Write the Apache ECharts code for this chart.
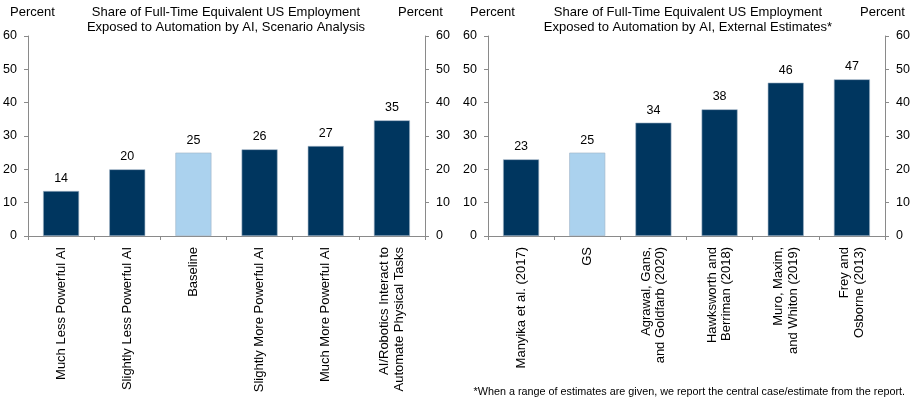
<!DOCTYPE html>
<html lang="en">

<head>
  <meta charset="UTF-8">
  <title>AI Automation Exposure</title>
  <script src="https://cdn.jsdelivr.net/npm/echarts@6.0.0/dist/echarts.min.js"></script>
</head>

<body style="margin:0;background:#fff;">
  <div id="main" style="width: 913px;height:407px;"></div>

  <script type="text/javascript">
    // Scenario analysis (left panel)
    const scenarioCategories = [
      'Much Less Powerful AI',
      'Slightly Less Powerful AI',
      'Baseline',
      'Slightly More Powerful AI',
      'Much More Powerful AI',
      'AI/Robotics Interact to\nAutomate Physical Tasks'
    ];
    const scenarioValues = [13.5, 20, 25, 26, 27, 34.7];

    // External estimates (right panel)
    const externalCategories = [
      'Manyika et al. (2017)',
      'GS',
      'Agrawal, Gans,\nand Goldfarb (2020)',
      'Hawksworth and\nBerriman (2018)',
      'Muro, Maxim,\nand Whiton (2019)',
      'Frey and\nOsborne (2013)'
    ];
    const externalValues = [23, 25, 34, 38, 46, 47];

    // index of the highlighted (light blue) bar in each panel
    const scenarioHighlight = 2;
    const externalHighlight = 1;

    const yTicks = [0, 10, 20, 30, 40, 50, 60];

    const navy = '#00365f';
    const light = '#abd2ee';
    const axisGray = '#8a8a8a';
    const font = 'Liberation Sans, Arial, sans-serif';

    let myChart = echarts.init(document.getElementById('main'));

    function yAxis(gridIndex, position) {
      return {
        type: 'value',
        gridIndex: gridIndex,
        position: position,
        min: yTicks[0],
        max: yTicks[yTicks.length - 1],
        interval: yTicks[1] - yTicks[0],
        axisLine: { show: true, lineStyle: { color: axisGray } },
        axisTick: { show: true, length: 4, lineStyle: { color: axisGray } },
        splitLine: { show: false },
        axisLabel: { color: '#000', fontFamily: font, fontSize: 12.5, margin: 11 }
      };
    }

    function xAxis(gridIndex, cats) {
      return {
        type: 'category',
        gridIndex: gridIndex,
        data: cats,
        axisLine: { lineStyle: { color: axisGray } },
        axisTick: { show: true, length: 4, alignWithLabel: false, lineStyle: { color: axisGray } },
        axisLabel: {
          rotate: 90, interval: 0, color: '#000', fontFamily: font,
          fontSize: 13, lineHeight: 14.5, margin: 11
        }
      };
    }

    function barData(values, highlight) {
      return values.map((v, i) => ({
        value: v,
        itemStyle: { color: i === highlight ? light : navy }
      }));
    }

    function barSeries(idx, values, highlight) {
      return {
        type: 'bar',
        xAxisIndex: idx,
        yAxisIndex: idx * 2,
        data: barData(values, highlight),
        barWidth: 36,
        itemStyle: { borderColor: '#9fb3c6', borderWidth: 0.6 },
        label: {
          show: true, position: 'top', distance: 6,
          color: '#000', fontFamily: font, fontSize: 12.5,
          formatter: p => Math.round(p.value)
        }
      };
    }

    const textStyle = { fontFamily: font, fontSize: 13, fontWeight: 'normal', color: '#000', lineHeight: 15 };

    const options = {
      animation: false,
      title: [
        { text: 'Share of Full-Time Equivalent US Employment\nExposed to Automation by AI, Scenario Analysis',
          left: 226, top: 5, padding: 0, textAlign: 'center', textStyle: textStyle },
        { text: 'Share of Full-Time Equivalent US Employment\nExposed to Automation by AI, External Estimates*',
          left: 688, top: 5, padding: 0, textAlign: 'center', textStyle: textStyle },
        { text: 'Percent', left: 10, top: 5, padding: 0, textStyle: textStyle },
        { text: 'Percent', left: 398, top: 5, padding: 0, textStyle: textStyle },
        { text: 'Percent', left: 470, top: 5, padding: 0, textStyle: textStyle },
        { text: 'Percent', left: 860, top: 5, padding: 0, textStyle: textStyle },
        { text: '*When a range of estimates are given, we report the central case/estimate from the report.',
          right: 8, top: 386, padding: 0, textStyle: Object.assign({}, textStyle, { fontSize: 10.8, lineHeight: 13 }) }
      ],
      grid: [
        { left: 28, right: 488, top: 36, height: 200 },
        { left: 488, right: 28, top: 36, height: 200 }
      ],
      xAxis: [xAxis(0, scenarioCategories), xAxis(1, externalCategories)],
      yAxis: [yAxis(0, 'left'), yAxis(0, 'right'), yAxis(1, 'left'), yAxis(1, 'right')],
      series: [
        barSeries(0, scenarioValues, scenarioHighlight),
        barSeries(1, externalValues, externalHighlight)
      ]
    };

    myChart.setOption(options);
  </script>
</body>

</html>
